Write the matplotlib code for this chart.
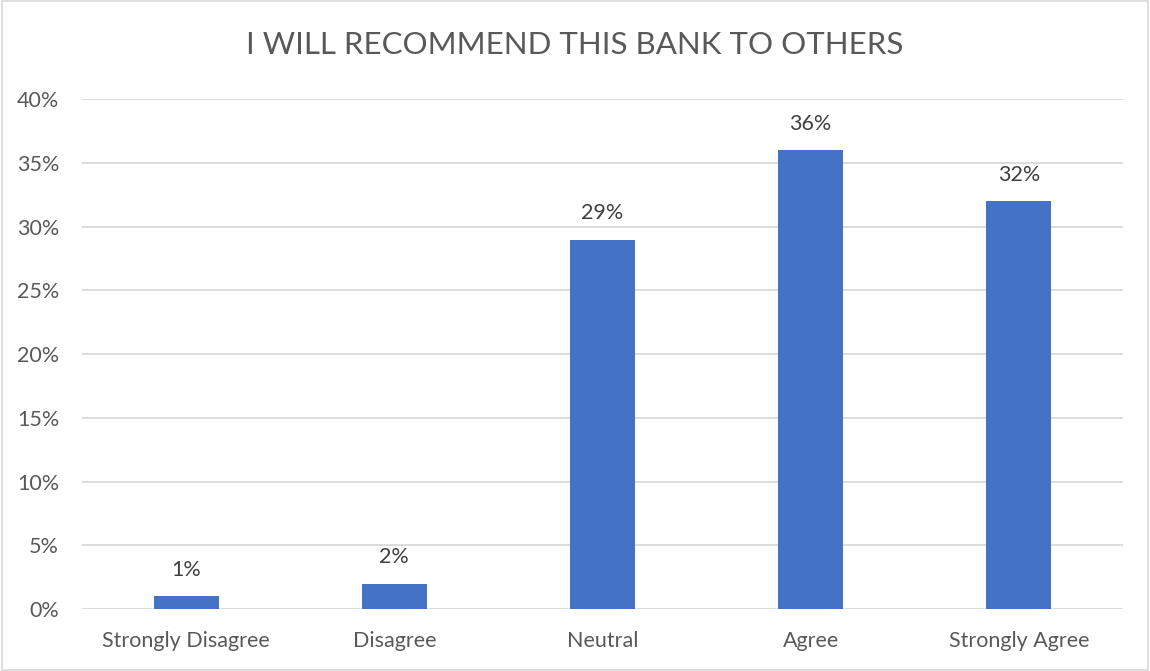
import matplotlib.pyplot as plt
from matplotlib.patches import Rectangle

categories = ["Strongly Disagree", "Disagree", "Neutral", "Agree", "Strongly Agree"]
percent = [1, 2, 29, 36, 32]
y_ticks = [0, 5, 10, 15, 20, 25, 30, 35, 40]

plt.rcParams['font.family'] = ['Lato', 'DejaVu Sans']
text_gray = "#595959"
bar_blue = "#4472C4"

fig = plt.figure(figsize=(11.5, 6.71), dpi=100)
ax = fig.add_axes([0.0713, 0.0924, 0.9052, 0.7595])

x = range(len(categories))
bars = ax.bar(x, percent, width=0.312, color=bar_blue, zorder=3)

for xi, v in zip(x, percent):
    ax.annotate(f"{v}%", (xi, v), xytext=(0, 12), textcoords="offset points",
                ha="center", va="bottom", fontsize=15.5, color="#404040")

ax.set_xlim(-0.5, len(categories) - 0.5)
ax.set_ylim(0, 40)
ax.set_yticks(y_ticks)
ax.set_yticklabels([f"{t}%" for t in y_ticks])
ax.set_xticks(list(x))
ax.set_xticklabels(categories)
ax.tick_params(axis="both", length=0, labelsize=15.5, labelcolor=text_gray)
ax.tick_params(axis="x", pad=16)
ax.tick_params(axis="y", pad=16.5)

ax.yaxis.grid(True, color="#D9D9D9", linewidth=1.3, zorder=0)
ax.set_axisbelow(True)
for s in ax.spines.values():
    s.set_visible(False)

fig.text(0.5, 1 - 45 / 671, "I WILL RECOMMEND THIS BANK TO OTHERS",
         ha="center", va="center", fontsize=22.5, color=text_gray)

# light frame around the whole chart
fig.patches.append(Rectangle((0.002, 0.002), 0.996, 0.996, transform=fig.transFigure,
                             fill=False, edgecolor="#D9D9D9", linewidth=1.2))

fig.savefig("out.png", dpi=100)
